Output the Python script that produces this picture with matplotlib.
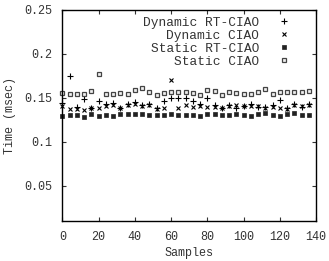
# Tiempos por muestra de cuatro configuraciones (CIAO / RT-CIAO)
import numpy as np
import matplotlib
matplotlib.use("Agg")
import matplotlib.pyplot as plt

plt.rcParams['font.family'] = ['Liberation Mono', 'DejaVu Sans Mono']
plt.rcParams['font.size'] = 8.5

# Datos
muestras = list(range(0, 137, 4))

dinamico_rt = [0.144, 0.175, 0.140, 0.1486, 0.139, 0.1464, 0.143, 0.144, 0.139, 0.143,
               0.145, 0.142, 0.143, 0.139, 0.146, 0.1498, 0.1498, 0.1495, 0.146, 0.143,
               0.1495, 0.142, 0.138, 0.142, 0.139, 0.141, 0.143, 0.140, 0.140, 0.142,
               0.148, 0.138, 0.143, 0.140, 0.143]
dinamico = [0.141, 0.137, 0.137, 0.136, 0.138, 0.1388, 0.141, 0.142, 0.138, 0.142,
            0.143, 0.141, 0.142, 0.137, 0.138, 0.170, 0.139, 0.142, 0.1395, 0.141,
            0.1395, 0.140, 0.139, 0.141, 0.142, 0.141, 0.141, 0.141, 0.138, 0.140,
            0.138, 0.137, 0.142, 0.141, 0.142]
estatico_rt = [0.129, 0.130, 0.131, 0.1285, 0.132, 0.1296, 0.130, 0.129, 0.132, 0.132,
               0.132, 0.132, 0.131, 0.131, 0.131, 0.132, 0.131, 0.131, 0.130, 0.129,
               0.132, 0.132, 0.131, 0.131, 0.132, 0.130, 0.129, 0.132, 0.133, 0.131,
               0.129, 0.132, 0.133, 0.131, 0.131]
estatico = [0.156, 0.154, 0.154, 0.155, 0.158, 0.177, 0.154, 0.155, 0.156, 0.155,
            0.159, 0.161, 0.157, 0.1536, 0.1555, 0.157, 0.157, 0.157, 0.156, 0.1536,
            0.159, 0.158, 0.1536, 0.157, 0.156, 0.154, 0.154, 0.157, 0.160, 0.154,
            0.157, 0.157, 0.157, 0.157, 0.158]

etiquetas = ['Dynamic RT-CIAO', 'Dynamic CIAO', 'Static RT-CIAO', 'Static CIAO']

fig = plt.figure(figsize=(3.29, 2.61), dpi=100)
ax = fig.add_axes([0.1894, 0.1533, 0.7711, 0.8084])

ax.plot(muestras, dinamico_rt, linestyle='none', marker='+', ms=3.8, mew=0.8,
        color='black', label=etiquetas[0], clip_on=False)
ax.plot(muestras, dinamico, linestyle='none', marker='x', ms=2.8, mew=0.8,
        color='black', label=etiquetas[1], clip_on=False)
ax.plot(muestras, estatico_rt, linestyle='none', marker='s', ms=2.5, mew=0.5,
        color='#222222', label=etiquetas[2], clip_on=False)
ax.plot(muestras, estatico, linestyle='none', marker='s', ms=3.4, mew=0.9,
        mfc='#f0f0f0', mec='#444444', label=etiquetas[3], clip_on=False)

ax.set_xlim(0, 140)
ax.set_ylim(0.01, 0.25)
ax.set_xticks(range(0, 141, 20))
yt = [0.05, 0.1, 0.15, 0.2, 0.25]
ax.set_yticks(yt)
ax.set_yticklabels(['%g' % v for v in yt])
ax.tick_params(direction='in', top=True, right=True, length=3, width=0.8,
               colors='#333333', labelcolor='#333333', pad=7)
for s in ax.spines.values():
    s.set_linewidth(1.0)
    s.set_color('black')

ax.set_xlabel('Samples', color='#333333', labelpad=3)
ax.set_ylabel('Time (msec)', color='#333333', labelpad=6)

ax.legend(loc='upper right', bbox_to_anchor=(0.93, 1.005), frameon=False,
          markerfirst=False, handlelength=1.0, handletextpad=1.4,
          labelspacing=0.07, borderpad=0.1, labelcolor='#333333',
          fontsize=9.3)

plt.savefig('out.png', dpi=100)
